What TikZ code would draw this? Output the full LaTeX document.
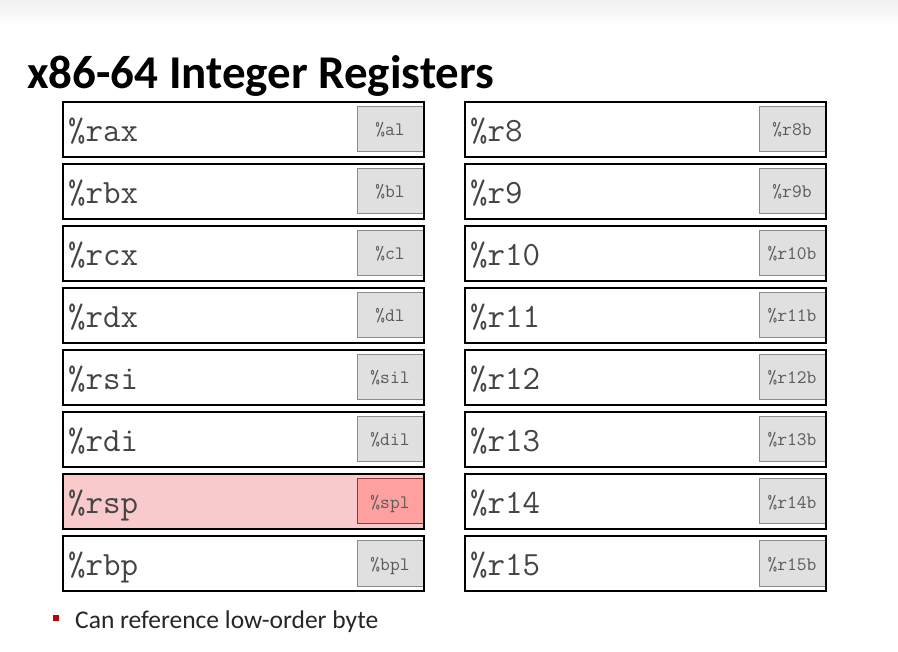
\documentclass[tikz,border=0pt]{standalone}
\usepackage{fontspec}
\setmainfont{Carlito}
\usetikzlibrary{positioning}

% register tables of the x86-64 integer registers
\definecolor{regtext}{HTML}{444444}
\definecolor{bytetext}{HTML}{5A5A5A}
\definecolor{bytefill}{HTML}{E0E0E0}
\definecolor{byteedge}{HTML}{8A8A8A}
\definecolor{spfill}{HTML}{F8CACC}
\definecolor{splfill}{HTML}{FFA0A0}
\definecolor{spledge}{HTML}{8A3A3A}
\definecolor{bulletred}{HTML}{C00000}

\tikzset{
  regbox/.style={draw=black, line width=2pt, fill=white},
  bytebox/.style={draw=byteedge, line width=1pt, fill=bytefill},
  regname/.style={anchor=base west, inner sep=0pt, text=regtext,
    font=\ttfamily\fontsize{34}{34}\selectfont},
  bytename/.style={anchor=base, inner sep=0pt, text=bytetext,
    font=\ttfamily\fontsize{19}{19}\selectfont},
}

\begin{document}
\begin{tikzpicture}[x=1pt, y=-1pt]
  \useasboundingbox (0,0) rectangle (898,652);
  \fill[white] (0,0) rectangle (898,652);
  % faint band along the top edge
  \shade[top color=black!6, bottom color=white] (0,0) rectangle (898,24);

  \node[anchor=base west, inner sep=0pt, font=\bfseries\fontsize{47}{47}\selectfont]
    (title) at (27,89) {x86-64 Integer Registers};

  % #1 column x, #2 row index, #3 name, #4 byte name, #5 node id, #6 extra box style
  \newcommand{\regrow}[6]{%
    \pgfmathsetmacro{\rtop}{102+62*#2}
    \pgfmathsetmacro{\rbot}{\rtop+55}
    \pgfmathsetmacro{\rright}{#1+361}
    \draw[regbox, #6] (#1,\rtop) rectangle (\rright,\rbot);
    \pgfmathsetmacro{\bleft}{\rright-67}
    \pgfmathsetmacro{\btop}{\rtop+5}
    \pgfmathsetmacro{\bbot}{\rbot-5}
    \pgfmathsetmacro{\bright}{\rright-1}
    \ifx\relax#6\relax
      \filldraw[bytebox] (\bright,\btop) -- (\bleft,\btop) -- (\bleft,\bbot) -- (\bright,\bbot);
    \else
      \filldraw[bytebox, fill=splfill, draw=spledge] (\bright,\btop) -- (\bleft,\btop) -- (\bleft,\bbot) -- (\bright,\bbot);
    \fi
    \node[regname] (#5) at (#1+5,\rtop+40) {#3};
    \node[bytename] (#5b) at ({(\bleft+\bright)/2},\rtop+34) {#4};
  }

  \regrow{63}{0}{\%rax}{\%al}{rax}{}
  \regrow{63}{1}{\%rbx}{\%bl}{rbx}{}
  \regrow{63}{2}{\%rcx}{\%cl}{rcx}{}
  \regrow{63}{3}{\%rdx}{\%dl}{rdx}{}
  \regrow{63}{4}{\%rsi}{\%sil}{rsi}{}
  \regrow{63}{5}{\%rdi}{\%dil}{rdi}{}
  \regrow{63}{6}{\%rsp}{\%spl}{rsp}{fill=spfill}
  \regrow{63}{7}{\%rbp}{\%bpl}{rbp}{}

  \regrow{465}{0}{\%r8}{\%r8b}{r8}{}
  \regrow{465}{1}{\%r9}{\%r9b}{r9}{}
  \regrow{465}{2}{\%r10}{\%r10b}{r10}{}
  \regrow{465}{3}{\%r11}{\%r11b}{r11}{}
  \regrow{465}{4}{\%r12}{\%r12b}{r12}{}
  \regrow{465}{5}{\%r13}{\%r13b}{r13}{}
  \regrow{465}{6}{\%r14}{\%r14b}{r14}{}
  \regrow{465}{7}{\%r15}{\%r15b}{r15}{}

  % note below the tables
  \fill[bulletred] (53,615) rectangle (59,621);
  \node[anchor=base west, inner sep=0pt, font=\fontsize{25.5}{25.5}\selectfont, text=black!85]
    (note) at (75,628) {Can reference low-order byte};
\end{tikzpicture}
\end{document}
